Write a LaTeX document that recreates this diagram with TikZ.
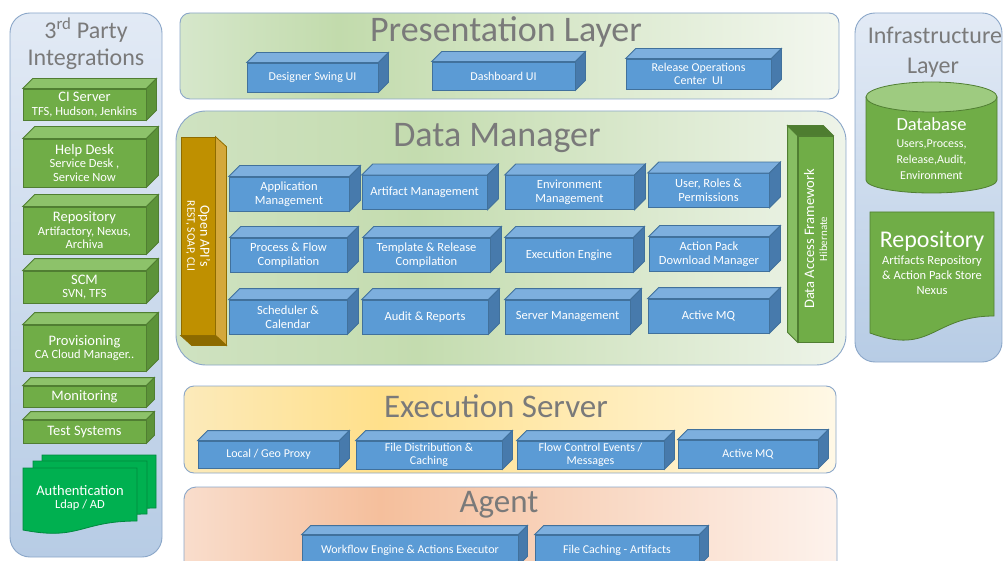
\documentclass[tikz,border=0pt]{standalone}
\usepackage{fontspec}
\setmainfont{Carlito}
\usetikzlibrary{positioning}

\definecolor{bluefront}{HTML}{5B9BD5}
\definecolor{bluetop}{HTML}{7DAFDE}
\definecolor{blueside}{HTML}{477AAC}
\definecolor{blueline}{HTML}{41719C}
\definecolor{greenfront}{HTML}{70AD47}
\definecolor{greentop}{HTML}{8DC26A}
\definecolor{greenside}{HTML}{5C9339}
\definecolor{greenline}{HTML}{507E32}
\definecolor{goldfront}{HTML}{BF9000}
\definecolor{goldside}{HTML}{D4A83B}
\definecolor{goldbottom}{HTML}{8C6A00}
\definecolor{goldline}{HTML}{8F6C00}
\definecolor{authgreen}{HTML}{00B050}
\definecolor{authline}{HTML}{00893E}
\definecolor{panelline}{HTML}{8AA6C8}
\definecolor{titlegray}{HTML}{7A7A7A}
\definecolor{leftA}{HTML}{E2EAF5}
\definecolor{leftB}{HTML}{B7CCE5}
\definecolor{presA}{HTML}{D6E7CB}
\definecolor{presB}{HTML}{C2DBAC}
\definecolor{presC}{HTML}{F3F7EF}
\definecolor{dmA}{HTML}{CFE2C1}
\definecolor{dmB}{HTML}{C4DCAF}
\definecolor{dmC}{HTML}{EEF4E9}
\definecolor{exA}{HTML}{FCEABA}
\definecolor{exB}{HTML}{FFE08B}
\definecolor{exC}{HTML}{FFF8E6}
\definecolor{agA}{HTML}{F9DDCC}
\definecolor{agB}{HTML}{F5BF9C}
\definecolor{agC}{HTML}{FDF2EC}

\pgfdeclarehorizontalshading{presshade}{100bp}{color(0bp)=(presA); color(25bp)=(presA); color(37bp)=(presB); color(75bp)=(presC); color(100bp)=(presC)}
\pgfdeclarehorizontalshading{dmshade}{100bp}{color(0bp)=(dmA); color(25bp)=(dmA); color(43bp)=(dmB); color(75bp)=(dmC); color(100bp)=(dmC)}
\pgfdeclarehorizontalshading{execshade}{100bp}{color(0bp)=(exA); color(25bp)=(exA); color(40bp)=(exB); color(75bp)=(exC); color(100bp)=(exC)}
\pgfdeclarehorizontalshading{agentshade}{100bp}{color(0bp)=(agA); color(25bp)=(agA); color(40bp)=(agB); color(75bp)=(agC); color(100bp)=(agC)}

\newcommand{\headfont}{\fontsize{14.5}{15.5}\selectfont}
\newcommand{\subfont}{\fontsize{12.5}{13.5}\selectfont}

% top and side faces of a box, drawn on a node
\newcommand{\cuboid}[3][10pt]{%
  \filldraw[fill=#3top, draw=#3line] (#2.north west) -- ++(#1,#1) -- ([shift={(#1,#1)}]#2.north east) -- (#2.north east) -- cycle;
  \filldraw[fill=#3side, draw=#3line] (#2.north east) -- ++(#1,#1) -- ([shift={(#1,#1)}]#2.south east) -- (#2.south east) -- cycle;
}

\begin{document}
\begin{tikzpicture}[x=1pt, y=-1pt, line width=0.8pt,
  panel/.style={draw=panelline, line width=0.9pt},
  layertitle/.style={text=titlegray, anchor=base, inner sep=0pt, font=\fontsize{36}{40}\selectfont},
  bbox/.style={draw=blueline, fill=bluefront, text=white, align=center, inner sep=1pt, minimum height=34pt, font=\fontsize{12.5}{14}\selectfont},
  gbox/.style={draw=greenline, fill=greenfront, text=white, align=center, inner sep=1pt, minimum width=123pt, font=\subfont},
  wtext/.style={text=white, align=center, inner sep=0pt}]

\useasboundingbox (0,0) rectangle (1003,561);
\clip (0,0) rectangle (1003,561);

% panels
\shadedraw[panel, top color=leftA, bottom color=leftB, rounded corners=20pt] (10,13) rectangle (162,557);
\shadedraw[panel, shading=presshade, rounded corners=10pt] (180,13) rectangle (839,99);
\shadedraw[panel, shading=dmshade, rounded corners=30pt] (176,111) rectangle (846,365);
\shadedraw[panel, top color=leftA, bottom color=leftB, rounded corners=20pt] (855,13) rectangle (1002,362);
\shadedraw[panel, shading=execshade, rounded corners=10pt] (184,386) rectangle (836,473);
\shadedraw[panel, shading=agentshade, rounded corners=12pt] (184,487) rectangle (837,590);

% titles
\node[layertitle, font=\fontsize{24}{26}\selectfont] (party) at (86,39) {3\textsuperscript{rd} Party};
\node[layertitle, font=\fontsize{24}{26}\selectfont] (integ) at (86,66) {Integrations};
\node[layertitle] (prestitle) at (506,42) {Presentation Layer};
\node[layertitle] (dmtitle) at (497,147) {Data Manager};
\node[layertitle, font=\fontsize{24}{26}\selectfont] (infra) at (935,44) {Infrastructure};
\node[layertitle, font=\fontsize{24}{26}\selectfont] (infralayer) at (933,74) {Layer};
\node[layertitle, font=\fontsize{33}{36}\selectfont] (exectitle) at (496,417) {Execution Server};
\node[layertitle, font=\fontsize{33}{36}\selectfont] (agenttitle) at (499,512) {Agent};

% 3rd party integrations
\node[gbox, minimum height=31pt] (ci) at (84.5,104.5) {{\headfont CI Server}\\TFS, Hudson, Jenkins};
\node[gbox, minimum height=48pt] (helpdesk) at (84.5,163) {{\headfont Help Desk}\\Service Desk ,\\Service Now};
\node[gbox, minimum height=47pt] (repo) at (84.5,230.5) {{\headfont Repository}\\Artifactory, Nexus,\\Archiva};
\node[gbox, minimum height=32pt] (scm) at (84.5,287) {{\headfont SCM}\\SVN, TFS};
\node[gbox, minimum height=46pt] (prov) at (84.5,348) {{\headfont Provisioning}\\CA Cloud Manager..};
\node[gbox, minimum height=21pt, font=\headfont] (monitor) at (84.5,396.5) {Monitoring};
\node[gbox, minimum height=23pt, font=\headfont] (testsys) at (84.5,431.5) {Test Systems};
\cuboid{ci}{green}
\cuboid[12pt]{helpdesk}{green}
\cuboid[12pt]{repo}{green}
\cuboid[12pt]{scm}{green}
\cuboid[12pt]{prov}{green}
\cuboid[8pt]{monitor}{green}
\cuboid[8pt]{testsys}{green}

% authentication documents
\filldraw[fill=authgreen, draw=authline] (42,455) -- (156,455) -- (156,508) .. controls (99,508) and (99,528) .. (42,517) -- cycle;
\filldraw[fill=authgreen, draw=authline] (33,461) -- (147,461) -- (147,514) .. controls (90,514) and (90,534) .. (33,523) -- cycle;
\filldraw[fill=authgreen, draw=authline] (23,468) -- (137,468) -- (137,521) .. controls (80,521) and (80,541) .. (23,530) -- cycle;
\node[wtext, font=\subfont] (auth) at (80,498) {{\headfont Authentication}\\Ldap / AD};

% presentation layer
\node[bbox, minimum width=131pt, minimum height=29pt, font=\fontsize{12}{13}\selectfont] (designer) at (312.5,77.5) {Designer Swing UI};
\node[bbox, minimum width=143pt, minimum height=28pt, font=\fontsize{12}{13}\selectfont] (dashboard) at (503.5,76) {Dashboard UI};
\node[bbox, minimum width=145pt, minimum height=30pt, font=\fontsize{12}{13}\selectfont] (releaseops) at (698.5,74) {Release Operations\\Center~~UI};
\cuboid{designer}{blue}
\cuboid{dashboard}{blue}
\cuboid{releaseops}{blue}

% data manager
\node[draw=goldline, fill=goldfront, minimum width=34pt, minimum height=198pt, inner sep=0pt] (openapi) at (198,236) {};
\filldraw[fill=goldside, draw=goldline] (openapi.north east) -- ++(11pt,-10pt) -- ([shift={(11pt,-10pt)}]openapi.south east) -- (openapi.south east) -- cycle;
\filldraw[fill=goldbottom, draw=goldline] (openapi.south west) -- ++(11pt,-10pt) -- ([shift={(11pt,-10pt)}]openapi.south east) -- (openapi.south east) -- cycle;
\node[wtext, rotate=-90, font=\fontsize{11.5}{13}\selectfont] (openapitext) at (openapi.center) {{\fontsize{14}{15}\selectfont Open API's}\\REST, SOAP, CLI};

\node[draw=greenline, fill=greenfront, minimum width=35pt, minimum height=206pt, inner sep=0pt] (daf) at (815.5,239) {};
\filldraw[fill=greentop!80!greenfront, draw=greenline] (daf.north west) -- ++(-10pt,10pt) -- ([shift={(-10pt,10pt)}]daf.south west) -- (daf.south west) -- cycle;
\filldraw[fill=greenside!85!black, draw=greenline] (daf.north west) -- ++(-10pt,10pt) -- ([shift={(-10pt,10pt)}]daf.north east) -- (daf.north east) -- cycle;
\node[wtext, rotate=90, font=\fontsize{11}{13}\selectfont] (daftext) at (daf.center) {{\fontsize{14.5}{16}\selectfont Data Access Framework}\\Hibernate};

\node[bbox, minimum width=120pt] (appmgmt) at (289,194) {Application\\Management};
\node[bbox, minimum width=125pt] (artmgmt) at (424.5,192.5) {Artifact Management};
\node[bbox, minimum width=129pt] (envmgmt) at (569.5,192.5) {Environment\\Management};
\node[bbox, minimum width=121pt] (userroles) at (708.5,190.5) {User, Roles \&\\Permissions};
\node[bbox, minimum width=117pt] (procflow) at (288.5,255) {Process \& Flow\\Compilation};
\node[bbox, minimum width=127pt] (template) at (426.5,255) {Template \& Release\\Compilation};
\node[bbox, minimum width=128pt] (execengine) at (569,255) {Execution Engine};
\node[bbox, minimum width=120pt] (actionpack) at (709,254) {Action Pack\\Download Manager};
\node[bbox, minimum width=118pt] (scheduler) at (288,317) {Scheduler \&\\Calendar};
\node[bbox, minimum width=126pt] (audit) at (425,317) {Audit \& Reports};
\node[bbox, minimum width=125pt] (servermgmt) at (567.5,317) {Server Management};
\node[bbox, minimum width=121pt] (activemq) at (708.5,316) {Active MQ};
\foreach \b in {appmgmt,artmgmt,envmgmt,userroles,procflow,template,execengine,actionpack,scheduler,audit,servermgmt,activemq}
  {\cuboid[11pt]{\b}{blue}}

% infrastructure layer
\filldraw[fill=greenfront, draw=greenline] (866,97) -- (866,180) arc[start angle=180, end angle=360, x radius=65.5pt, y radius=13pt] -- (997,97) -- cycle;
\filldraw[fill=greentop!85!white, draw=greenline] (931.5,97) ellipse[x radius=65.5pt, y radius=15pt];
\node[wtext, font=\fontsize{18.5}{20}\selectfont] (dbtitle) at (931.5,124) {Database};
\node[wtext, font=\fontsize{12}{16}\selectfont] (dbtext) at (931.5,160) {Users,Process,\\Release,Audit,\\Environment};

\filldraw[fill=greenfront, draw=greenline] (870,212) -- (994,212) -- (994,316) .. controls (932,316) and (932,356) .. (870,333) -- cycle;
\node[wtext, font=\fontsize{24}{26}\selectfont] (repotitle) at (932,241) {Repository};
\node[wtext, font=\fontsize{12.5}{15}\selectfont, below=4pt of repotitle] (repotext) {Artifacts Repository\\\& Action Pack Store\\Nexus};

% execution server
\node[bbox, minimum width=141pt, minimum height=27pt, font=\fontsize{12}{13}\selectfont] (localgeo) at (268.5,454.5) {Local / Geo Proxy};
\node[bbox, minimum width=146pt, minimum height=28pt, font=\fontsize{12}{13}\selectfont] (filedist) at (429,455) {File Distribution \&\\Caching};
\node[bbox, minimum width=147pt, minimum height=28pt, font=\fontsize{12}{13}\selectfont] (flowctl) at (590.5,455) {Flow Control Events /\\Messages};
\node[bbox, minimum width=140pt, minimum height=28pt, font=\fontsize{12}{13}\selectfont] (execmq) at (748,454) {Active MQ};
\foreach \b in {localgeo,filedist,flowctl,execmq}
  {\cuboid{\b}{blue}}

% agent
\node[bbox, minimum width=216pt, minimum height=30pt, font=\fontsize{12}{13}\selectfont] (workflow) at (410,550) {Workflow Engine \& Actions Executor};
\node[bbox, minimum width=164pt, minimum height=30pt, font=\fontsize{12}{13}\selectfont] (filecache) at (617,550) {File Caching - Artifacts};
\cuboid[9pt]{workflow}{blue}
\cuboid[9pt]{filecache}{blue}

\end{tikzpicture}
\end{document}
